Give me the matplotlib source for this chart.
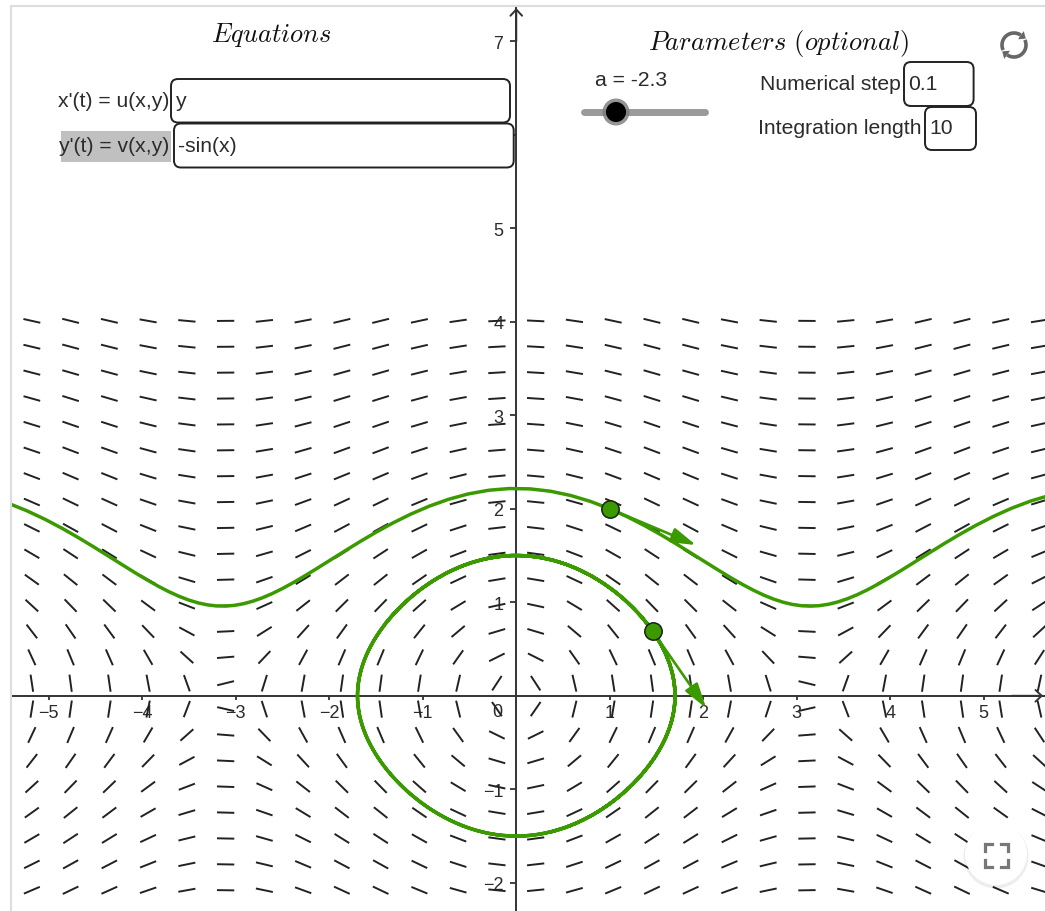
import numpy as np
import matplotlib
matplotlib.use('Agg')
import matplotlib.pyplot as plt
from matplotlib.collections import LineCollection
from matplotlib.patches import FancyBboxPatch, Rectangle, Circle, Polygon

plt.rcParams['mathtext.fontset'] = 'cm'
plt.rcParams['font.family'] = ['Liberation Sans', 'DejaVu Sans']

# what is typed into the applet
u_text = 'y'
v_text = '-sin(x)'
a_value = -2.3
num_step = 0.1
int_length = 10

def u(x, y):
    return y

def v(x, y):
    return -np.sin(x)

# the two dragged start points
start_points = [(1.0, 2.0), (1.46, 0.69)]

# slope field sample grid
field_x = np.linspace(-5.181, 5.596, 27)
field_y = np.linspace(-2.08, 4.01, 23)
seg_len = 0.185

x_ticks = [-5, -4, -3, -2, -1, 1, 2, 3, 4, 5]
y_ticks = [-2, -1, 1, 2, 3, 4, 5, 6, 7]

green = '#3a9a00'
ink = '#2b2b2b'


def rk4(p, h, n):
    x, y = p
    out = [(x, y)]
    for i in range(n):
        k1 = (u(x, y), v(x, y))
        k2 = (u(x + h/2*k1[0], y + h/2*k1[1]), v(x + h/2*k1[0], y + h/2*k1[1]))
        k3 = (u(x + h/2*k2[0], y + h/2*k2[1]), v(x + h/2*k2[0], y + h/2*k2[1]))
        k4 = (u(x + h*k3[0], y + h*k3[1]), v(x + h*k3[0], y + h*k3[1]))
        x = x + h/6*(k1[0] + 2*k2[0] + 2*k3[0] + k4[0])
        y = y + h/6*(k1[1] + 2*k2[1] + 2*k3[1] + k4[1])
        out.append((x, y))
    return np.array(out)


fig = plt.figure(figsize=(10.45, 9.12), dpi=100)
fig.patch.set_facecolor('white')

ax = fig.add_axes([11/1045, 0, 1034/1045, 905/912])
ax.set_xlim(-5.404, 5.655)
ax.set_ylim(-2.302, 7.378)

for s in ['top', 'right']:
    ax.spines[s].set_visible(False)
for s in ['left', 'bottom']:
    ax.spines[s].set_position(('data', 0))
    ax.spines[s].set_color('#333333')
    ax.spines[s].set_linewidth(1.4)
    ax.spines[s].set_zorder(3)

ax.set_xticks(x_ticks)
ax.set_yticks(y_ticks)
ax.set_xticklabels([str(t).replace('-', '\u2212') for t in x_ticks])
ax.set_yticklabels([str(t).replace('-', '\u2212') for t in y_ticks])
ax.tick_params(axis='x', direction='out', length=3, width=1.3, color='#333333',
               labelsize=13, labelcolor=ink, pad=3)
ax.tick_params(axis='y', direction='out', length=4.3, width=1.3, color='#333333',
               labelsize=13, labelcolor=ink, pad=5)
ax.annotate('0', xy=(0, 0), xytext=(-19, -16), textcoords='offset pixels',
            ha='center', va='center', fontsize=13, color=ink)

# axis arrows
ax.annotate('', xy=(0, 7.356), xytext=(0, 7.0),
            arrowprops=dict(arrowstyle='->,head_length=4.5,head_width=4.2', mutation_scale=1,
                            lw=1.4, color='#333333', shrinkA=0, shrinkB=0))
ax.annotate('', xy=(5.635, 0), xytext=(5.3, 0),
            arrowprops=dict(arrowstyle='->,head_length=4.5,head_width=4.2', mutation_scale=1,
                            lw=1.4, color='#333333', shrinkA=0, shrinkB=0))

# slope field
X, Y = np.meshgrid(field_x, field_y)
U, V = u(X, Y), v(X, Y)
N = np.hypot(U, V)
DX, DY = U/N*seg_len/2, V/N*seg_len/2
a_end = np.stack([X - DX, Y - DY], -1).reshape(-1, 2)
b_end = np.stack([X + DX, Y + DY], -1).reshape(-1, 2)
segs = np.stack([a_end, b_end], axis=1)
ax.add_collection(LineCollection(segs, colors='#222222', linewidths=1.4, zorder=2))

# trajectories, both directions from each start point
nsteps = int(round(int_length/num_step))
for p in start_points:
    fwd = rk4(p, num_step, nsteps)
    bwd = rk4(p, -num_step, nsteps)
    path = np.vstack([bwd[::-1], fwd[1:]])
    ax.plot(path[:, 0], path[:, 1], color=green, lw=2.5, zorder=4, solid_capstyle='round')

for p in start_points:
    du, dv = u(*p), v(*p)
    n = np.hypot(du, dv)
    tip = (p[0] + du/n, p[1] + dv/n)
    ax.annotate('', xy=tip, xytext=p,
                arrowprops=dict(arrowstyle='-|>,head_length=15,head_width=4.5', mutation_scale=1,
                                lw=1.9, color=green, shrinkA=0, shrinkB=0), zorder=5)
    ax.plot(p[0], p[1], 'o', ms=12.5, mfc=green, mec='#1e1e1e', mew=1.1, zorder=6)

# ---- applet widgets, pixel coordinates ----
ov = fig.add_axes([0, 0, 1, 1], zorder=5)
ov.set_xlim(0, 1045)
ov.set_ylim(912, 0)
ov.axis('off')

ov.plot([11, 1045], [6.5, 6.5], color='#dddddd', lw=1.5)
ov.plot([11, 11], [6.5, 912], color='#dddddd', lw=1.5)

ov.text(271.5, 35, r'$Equations$', fontsize=19, ha='center', va='center', color='#111111')
ov.text(778, 43.5, r'$Parameters\ (optional)$', fontsize=19, ha='center', va='center', color='#111111')


def box(x0, y0, x1, y1):
    ov.add_patch(FancyBboxPatch((x0, y0), x1 - x0, y1 - y0,
                                boxstyle='round,pad=0,rounding_size=7',
                                fc='white', ec='#222222', lw=1.4, zorder=3))


fs = 15.2
ov.add_patch(Rectangle((61, 132), 110, 30.5, fc='#c0c0c0', ec='none', zorder=2))
ov.text(169, 101.5, "x'(t) = u(x,y)", fontsize=fs, ha='right', va='center', color=ink, zorder=4)
ov.text(169, 147, "y'(t) = v(x,y)", fontsize=fs, ha='right', va='center', color=ink, zorder=4)
box(171, 80, 510, 123.5)
box(174, 124.5, 513.7, 168.5)
ov.text(176, 101.5, u_text, fontsize=fs, ha='left', va='center', color=ink, zorder=4)
ov.text(178, 147, v_text, fontsize=fs, ha='left', va='center', color=ink, zorder=4)

ov.text(631.5, 80, 'a = ' + str(a_value), fontsize=fs, ha='center', va='center', color=ink)
ov.plot([584, 705], [113, 113], color='#9a9a9a', lw=5, solid_capstyle='round')
ov.add_patch(Circle((616, 113), 13.5, fc='#7a7a7a', ec='none', alpha=0.8, zorder=3))
ov.add_patch(Circle((616, 113), 10, fc='black', ec='none', zorder=4))

ov.text(900.6, 85, 'Numerical step', fontsize=fs, ha='right', va='center', color=ink)
box(904, 63, 973.6, 107)
ov.text(908, 85, str(num_step), fontsize=fs, ha='left', va='center', color=ink, zorder=4)
ov.text(921, 128, 'Integration length', fontsize=fs, ha='right', va='center', color=ink)
box(925, 108, 976, 151)
ov.text(929, 129, str(int_length), fontsize=fs, ha='left', va='center', color=ink, zorder=4)

# reset icon
icon = '#666666'
cx, cy, r = 1014, 46, 12
for t0, t1 in [(205, 55), (25, -125)]:
    th = np.radians(np.linspace(t0, t1, 30))
    ov.plot(cx + r*np.cos(th), cy - r*np.sin(th), color=icon, lw=2.6, solid_capstyle='butt')
    te = th[-1]
    ex, ey = cx + r*np.cos(te), cy - r*np.sin(te)
    dx, dy = np.sin(te), np.cos(te)
    ov.add_patch(Polygon([(ex + 6*dx, ey + 6*dy), (ex - 5*dy, ey + 5*dx), (ex + 5*dy, ey - 5*dx)],
                         closed=True, fc=icon, ec='none'))

# fullscreen button
ov.add_patch(Circle((996, 857), 32.5, fc='black', ec='none', alpha=0.07, zorder=3))
ov.add_patch(Circle((996, 855), 31, fc='white', ec='none', zorder=4))
bx, by, h, arm = 996.5, 856.5, 11.5, 7
for sx in (-1, 1):
    for sy in (-1, 1):
        ov.plot([bx + sx*h, bx + sx*h, bx + sx*(h - arm)],
                [by + sy*(h - arm), by + sy*h, by + sy*h],
                color='#777777', lw=2.3, solid_joinstyle='miter', zorder=5)

fig.savefig('out.png', dpi=100, facecolor='white')
